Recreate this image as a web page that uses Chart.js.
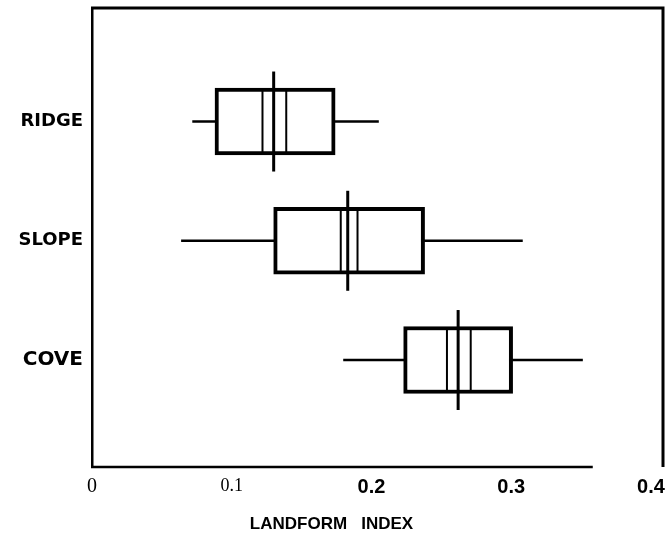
<!DOCTYPE html>
<html>
<head>
<meta charset="utf-8">
<script src="https://cdn.jsdelivr.net/npm/chart.js@4"></script>
<style>html,body{margin:0;padding:0;background:#fff}canvas{display:block}</style>
</head>
<body>
<canvas id="c" width="666" height="540"></canvas>
<script>
// ---- data ----
const categories  = ['RIDGE', 'SLOPE', 'COVE'];
const categoryPos = [1, 2, 3];
const whiskerLow  = [0.072, 0.064, 0.180];
const boxLow      = [0.088, 0.130, 0.223];
const innerLeft   = [0.122, 0.178, 0.254];
const centerMark  = [0.130, 0.183, 0.262];
const innerRight  = [0.139, 0.190, 0.271];
const boxHigh     = [0.174, 0.238, 0.301];
const whiskerHigh = [0.205, 0.308, 0.351];
const xTickValues = [0, 0.1, 0.2, 0.3, 0.4];
const xTickLabels = ['0', '0.1', '0.2', '0.3', '0.4'];
const axisTitle   = 'LANDFORM   INDEX';

const pts = arr => arr.map((v, i) => ({x: v, y: categoryPos[i]}));
const ranges = (a, b) => a.map((v, i) => ({x: [v, b[i]], y: categoryPos[i]}));

const markStyle = (r, w) => ({
  type: 'line', showLine: false, pointStyle: 'line', pointRotation: 90,
  pointRadius: r, pointHoverRadius: r, pointBorderWidth: w,
  pointBorderColor: '#000', pointBackgroundColor: '#000', clip: false, order: 0
});

// frame: top and right edges full, bottom axis line stops short of the right edge (as in the scan)
const BOTTOM_LINE_FRACTION = 0.877;
const framePlugin = {
  id: 'frame',
  afterDraw(chart) {
    const {ctx, chartArea: a} = chart;
    ctx.save();
    ctx.strokeStyle = '#000';
    ctx.lineWidth = 3;
    ctx.beginPath();
    ctx.moveTo(a.left - 1, a.top);
    ctx.lineTo(a.right, a.top);
    ctx.lineTo(a.right, a.bottom);
    ctx.stroke();
    ctx.lineWidth = 2.5;
    ctx.beginPath();
    ctx.moveTo(a.left - 1, a.bottom);
    ctx.lineTo(a.left + (a.right - a.left) * BOTTOM_LINE_FRACTION, a.bottom);
    ctx.stroke();
    ctx.restore();
  }
};

new Chart(document.getElementById('c'), {
  type: 'bar',
  data: {
    datasets: [
      Object.assign({data: pts(centerMark)}, markStyle(50, 3)),
      Object.assign({data: pts(innerLeft)}, markStyle(32, 2)),
      Object.assign({data: pts(innerRight)}, markStyle(32, 2)),
      {
        type: 'bar', data: ranges(boxLow, boxHigh),
        backgroundColor: '#fff', borderColor: '#000', borderWidth: 4,
        borderSkipped: false, barThickness: 67, grouped: false, order: 1
      },
      {
        type: 'bar', data: ranges(whiskerLow, whiskerHigh),
        backgroundColor: '#000', borderWidth: 0,
        barThickness: 2, grouped: false, order: 2
      }
    ]
  },
  options: {
    indexAxis: 'y',
    responsive: false,
    animation: false,
    events: [],
    devicePixelRatio: 1,
    layout: {autoPadding: false, padding: {left: 0, right: 3, top: 8, bottom: 0}},
    plugins: {
      legend: {display: false},
      tooltip: {enabled: false},
      title: {
        display: true, position: 'bottom', text: axisTitle, color: '#000',
        font: {family: 'Liberation Sans', weight: 'bold', size: 17},
        padding: {top: 4, bottom: 5}
      }
    },
    scales: {
      x: {
        type: 'linear', min: 0, max: 0.4086, offset: false,
        afterBuildTicks: s => { s.ticks = xTickValues.map(v => ({value: v})); },
        afterFit: s => { s.height = 43.6; s.paddingLeft = 0; s.paddingRight = 0; },
        grid: {display: false, drawTicks: false},
        border: {display: false},
        ticks: {
          padding: 8, color: '#000', maxRotation: 0, autoSkip: false,
          callback: (v, i) => xTickLabels[i],
          font: ctx => {
            const i = ctx.index;
            if (i === 0) return {family: 'Liberation Serif', weight: 'normal', size: 20};
            if (i === 1) return {family: 'Liberation Serif', weight: 'normal', size: 18};
            return {family: 'Liberation Sans', weight: 'bold', size: 20};
          }
        }
      },
      y: {
        type: 'linear', reverse: true, min: 0.048, max: 3.897, offset: false,
        afterBuildTicks: s => { s.ticks = categoryPos.map(v => ({value: v})); },
        afterFit: s => { s.width = 92; s.paddingTop = 0; s.paddingBottom = 0; },
        grid: {display: false, drawTicks: false, offset: false},
        border: {display: true, color: '#000', width: 2.5},
        ticks: {
          padding: 9, color: '#000', autoSkip: false,
          callback: v => categories[categoryPos.indexOf(v)],
          font: ctx => ({
            family: 'DejaVu Sans', weight: 'bold',
            size: (ctx.tick && ctx.tick.value === 3) ? 20 : 18
          })
        }
      }
    }
  },
  plugins: [framePlugin]
});
</script>
</body>
</html>
